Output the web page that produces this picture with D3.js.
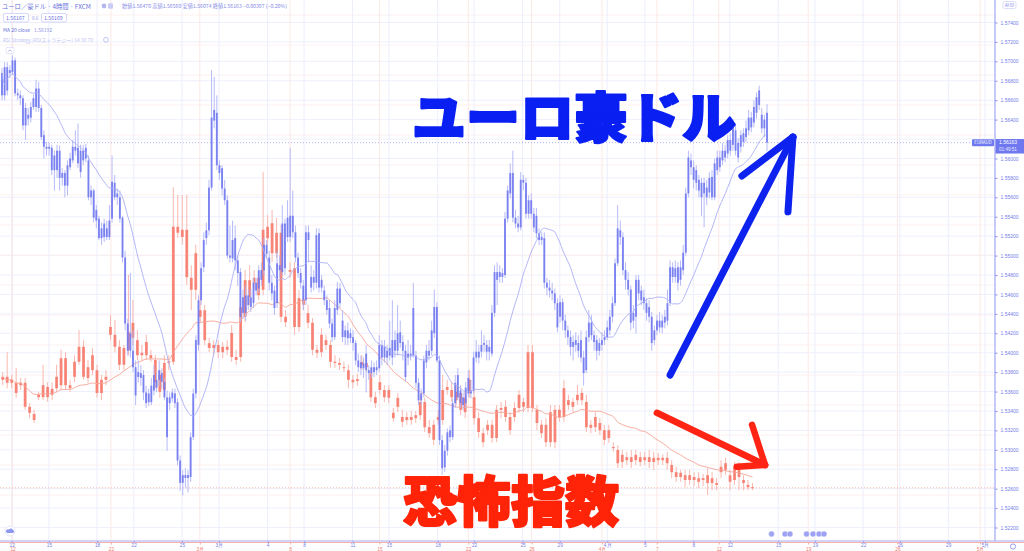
<!DOCTYPE html>
<html><head><meta charset="utf-8">
<script src="https://cdn.jsdelivr.net/npm/d3@7"></script>
<style>
html,body{margin:0;padding:0;background:#fff;}
svg{display:block;font-family:"Noto Sans CJK JP","Liberation Sans",sans-serif;}
</style></head><body>
<svg id="c" width="1024" height="551"></svg>
<script>
// ---------- DATA ----------
// EUR/AUD 4h candles [open, high, low, close]
const blueOHLC = [
[1.5665,1.5693,1.5660,1.5688],[1.5694,1.5699,1.5660,1.5665],[1.5670,1.5699,1.5665,1.5694],[1.5688,1.5696,1.5683,1.5691],[1.5689,1.5706,1.5686,1.5701],
[1.5701,1.5704,1.5664,1.5667],[1.5667,1.5672,1.5660,1.5665],[1.5665,1.5670,1.5655,1.5662],[1.5662,1.5665,1.5629,1.5634],[1.5634,1.5657,1.5619,1.5652],
[1.5645,1.5652,1.5634,1.5641],[1.5642,1.5658,1.5637,1.5653],[1.5653,1.5666,1.5650,1.5662],[1.5653,1.5681,1.5648,1.5672],[1.5672,1.5679,1.5648,1.5652],
[1.5652,1.5655,1.5619,1.5622],[1.5624,1.5629,1.5600,1.5612],[1.5612,1.5617,1.5603,1.5610],[1.5610,1.5616,1.5603,1.5612],[1.5611,1.5614,1.5583,1.5588],
[1.5588,1.5608,1.5567,1.5603],[1.5608,1.5614,1.5580,1.5588],[1.5608,1.5613,1.5567,1.5580],[1.5580,1.5590,1.5572,1.5585],[1.5585,1.5588,1.5560,1.5572],
[1.5572,1.5598,1.5562,1.5593],[1.5591,1.5606,1.5588,1.5600],[1.5598,1.5619,1.5595,1.5612],[1.5612,1.5629,1.5603,1.5608],[1.5611,1.5636,1.5590,1.5595],
[1.5586,1.5614,1.5580,1.5608],[1.5608,1.5614,1.5593,1.5598],[1.5600,1.5615,1.5596,1.5611],[1.5598,1.5603,1.5557,1.5560],[1.5560,1.5572,1.5552,1.5567],
[1.5567,1.5569,1.5534,1.5539],[1.5547,1.5552,1.5528,1.5536],[1.5538,1.5541,1.5516,1.5518],[1.5518,1.5534,1.5511,1.5528],[1.5533,1.5538,1.5514,1.5519],
[1.5519,1.5536,1.5516,1.5528],[1.5519,1.5552,1.5516,1.5536],[1.5538,1.5603,1.5534,1.5576],[1.5575,1.5583,1.5557,1.5560],[1.5560,1.5569,1.5552,1.5564],
[1.5560,1.5567,1.5534,1.5538],[1.5539,1.5541,1.5493,1.5498],[1.5498,1.5505,1.5423,1.5430],[1.5430,1.5435,1.5397,1.5402],[1.5402,1.5482,1.5395,1.5420],
[1.5402,1.5423,1.5380,1.5385],[1.5385,1.5392,1.5346,1.5356],[1.5375,1.5392,1.5369,1.5380],[1.5379,1.5387,1.5366,1.5374],[1.5377,1.5382,1.5351,1.5359],
[1.5359,1.5366,1.5343,1.5348],[1.5349,1.5363,1.5345,1.5358],[1.5349,1.5374,1.5346,1.5366],[1.5361,1.5387,1.5356,1.5377],[1.5372,1.5380,1.5359,1.5364],
[1.5372,1.5392,1.5366,1.5382],[1.5379,1.5384,1.5363,1.5370],[1.5370,1.5374,1.5351,1.5354],[1.5354,1.5361,1.5299,1.5313],[1.5348,1.5359,1.5341,1.5354],
[1.5353,1.5363,1.5349,1.5359],[1.5358,1.5363,1.5343,1.5348],[1.5349,1.5353,1.5284,1.5289],[1.5289,1.5294,1.5258,1.5266],[1.5266,1.5279,1.5253,1.5274],
[1.5274,1.5281,1.5261,1.5271],[1.5271,1.5279,1.5256,1.5274],[1.5272,1.5318,1.5267,1.5313],
[1.5313,1.5363,1.5310,1.5358],[1.5358,1.5418,1.5353,1.5413],[1.5408,1.5459,1.5402,1.5454],[1.5454,1.5493,1.5449,1.5487],[1.5488,1.5524,1.5483,1.5516],
[1.5518,1.5534,1.5511,1.5526],[1.5526,1.5578,1.5521,1.5570],[1.5570,1.5691,1.5567,1.5642],[1.5639,1.5684,1.5631,1.5650],[1.5647,1.5665,1.5588,1.5593],
[1.5593,1.5598,1.5578,1.5585],[1.5590,1.5593,1.5562,1.5569],[1.5569,1.5578,1.5552,1.5557],[1.5557,1.5562,1.5497,1.5500],[1.5500,1.5531,1.5493,1.5498],
[1.5497,1.5536,1.5493,1.5516],[1.5518,1.5531,1.5485,1.5495],[1.5495,1.5500,1.5469,1.5482],[1.5483,1.5487,1.5431,1.5437],[1.5441,1.5465,1.5435,1.5457],
[1.5459,1.5469,1.5433,1.5441],[1.5449,1.5465,1.5444,1.5459],[1.5457,1.5465,1.5442,1.5447],[1.5451,1.5477,1.5446,1.5472],[1.5472,1.5477,1.5459,1.5464],
[1.5466,1.5490,1.5462,1.5485],[1.5485,1.5493,1.5469,1.5475],[1.5485,1.5518,1.5480,1.5511],[1.5511,1.5516,1.5497,1.5502],[1.5498,1.5505,1.5464,1.5472],
[1.5472,1.5480,1.5454,1.5461],[1.5464,1.5469,1.5439,1.5446],[1.5451,1.5505,1.5446,1.5492],[1.5490,1.5500,1.5477,1.5485],[1.5483,1.5552,1.5480,1.5533],
[1.5533,1.5538,1.5480,1.5487],[1.5519,1.5557,1.5514,1.5539],[1.5541,1.5611,1.5514,1.5519],[1.5524,1.5567,1.5518,1.5541],[1.5524,1.5531,1.5493,1.5498],
[1.5498,1.5503,1.5477,1.5482],[1.5482,1.5487,1.5466,1.5472],[1.5469,1.5475,1.5444,1.5454],[1.5454,1.5531,1.5449,1.5524],[1.5524,1.5531,1.5493,1.5516],
[1.5478,1.5490,1.5462,1.5467],[1.5472,1.5485,1.5464,1.5478],[1.5472,1.5528,1.5466,1.5521],[1.5523,1.5528,1.5462,1.5467],[1.5467,1.5480,1.5462,1.5475],
[1.5464,1.5469,1.5449,1.5454],[1.5454,1.5459,1.5439,1.5444],[1.5446,1.5454,1.5425,1.5430],[1.5430,1.5435,1.5411,1.5416],[1.5416,1.5454,1.5413,1.5446],
[1.5444,1.5473,1.5439,1.5466],[1.5466,1.5472,1.5446,1.5451],[1.5433,1.5444,1.5411,1.5416],[1.5416,1.5428,1.5408,1.5423],[1.5423,1.5431,1.5408,1.5415],
[1.5415,1.5425,1.5410,1.5420],[1.5416,1.5423,1.5402,1.5410],[1.5410,1.5413,1.5387,1.5392],[1.5392,1.5399,1.5380,1.5385],[1.5384,1.5397,1.5377,1.5390],
[1.5389,1.5395,1.5374,1.5384],[1.5382,1.5408,1.5359,1.5399],[1.5382,1.5387,1.5372,1.5379],[1.5379,1.5392,1.5374,1.5385],[1.5385,1.5390,1.5375,1.5380],
[1.5382,1.5392,1.5377,1.5385],[1.5384,1.5418,1.5380,1.5408],[1.5408,1.5413,1.5387,1.5395],
[1.5395,1.5413,1.5390,1.5406],[1.5402,1.5408,1.5387,1.5395],[1.5397,1.5433,1.5392,1.5405],[1.5395,1.5454,1.5387,1.5413],[1.5413,1.5423,1.5395,1.5402],
[1.5402,1.5449,1.5397,1.5420],[1.5421,1.5433,1.5405,1.5410],[1.5411,1.5418,1.5392,1.5402],[1.5402,1.5408,1.5370,1.5375],[1.5395,1.5413,1.5387,1.5399],
[1.5399,1.5408,1.5392,1.5397],[1.5446,1.5472,1.5395,1.5397],[1.5397,1.5402,1.5363,1.5369],[1.5369,1.5374,1.5346,1.5351],[1.5351,1.5363,1.5346,1.5358],
[1.5358,1.5397,1.5354,1.5392],[1.5390,1.5408,1.5384,1.5402],[1.5402,1.5413,1.5392,1.5397],[1.5402,1.5433,1.5397,1.5423],[1.5420,1.5465,1.5415,1.5447],
[1.5447,1.5452,1.5390,1.5392],[1.5392,1.5397,1.5305,1.5310],[1.5310,1.5315,1.5274,1.5281],[1.5282,1.5305,1.5277,1.5299],[1.5299,1.5322,1.5294,1.5318],
[1.5320,1.5325,1.5308,1.5313],[1.5313,1.5353,1.5310,1.5348],[1.5348,1.5377,1.5343,1.5369],[1.5377,1.5384,1.5351,1.5354],[1.5361,1.5366,1.5343,1.5348],
[1.5346,1.5359,1.5341,1.5354],[1.5348,1.5370,1.5343,1.5364],[1.5358,1.5382,1.5354,1.5374],[1.5361,1.5372,1.5353,1.5358],[1.5361,1.5401,1.5358,1.5395],
[1.5395,1.5413,1.5390,1.5401],[1.5401,1.5408,1.5389,1.5395],[1.5401,1.5423,1.5395,1.5408],[1.5408,1.5418,1.5401,1.5410],[1.5408,1.5413,1.5392,1.5401],
[1.5401,1.5413,1.5392,1.5406],[1.5399,1.5449,1.5396,1.5441],[1.5441,1.5490,1.5437,1.5483],[1.5483,1.5493,1.5449,1.5475],[1.5478,1.5490,1.5472,1.5483],
[1.5482,1.5487,1.5472,1.5478],[1.5480,1.5545,1.5477,1.5538],[1.5538,1.5572,1.5534,1.5567],[1.5564,1.5595,1.5559,1.5585],[1.5585,1.5608,1.5534,1.5539],
[1.5539,1.5547,1.5528,1.5533],[1.5533,1.5541,1.5524,1.5529],[1.5529,1.5586,1.5526,1.5578],[1.5578,1.5583,1.5567,1.5575],[1.5575,1.5580,1.5538,1.5543],
[1.5543,1.5562,1.5538,1.5557],[1.5557,1.5564,1.5538,1.5543],[1.5543,1.5549,1.5524,1.5529],[1.5541,1.5549,1.5518,1.5523],[1.5523,1.5528,1.5511,1.5516],
[1.5516,1.5524,1.5511,1.5519],[1.5518,1.5524,1.5466,1.5472],[1.5472,1.5477,1.5459,1.5467],[1.5467,1.5475,1.5457,1.5464],[1.5464,1.5472,1.5454,1.5461],
[1.5461,1.5466,1.5444,1.5451],[1.5451,1.5456,1.5421,1.5426],[1.5437,1.5459,1.5431,1.5452],[1.5452,1.5456,1.5423,1.5433],[1.5433,1.5439,1.5415,1.5423],
[1.5423,1.5428,1.5408,1.5416],[1.5416,1.5423,1.5397,1.5406],[1.5406,1.5418,1.5392,1.5411],
[1.5413,1.5421,1.5401,1.5408],[1.5410,1.5418,1.5395,1.5402],[1.5395,1.5423,1.5390,1.5413],[1.5395,1.5402,1.5366,1.5379],[1.5382,1.5423,1.5379,1.5416],
[1.5416,1.5444,1.5411,1.5431],[1.5431,1.5439,1.5413,1.5418],[1.5418,1.5423,1.5402,1.5411],[1.5413,1.5418,1.5392,1.5402],[1.5402,1.5415,1.5397,1.5410],
[1.5408,1.5421,1.5402,1.5413],[1.5413,1.5423,1.5408,1.5416],[1.5416,1.5433,1.5413,1.5426],[1.5423,1.5444,1.5418,1.5437],[1.5437,1.5458,1.5431,1.5451],
[1.5451,1.5497,1.5448,1.5492],[1.5492,1.5552,1.5489,1.5528],[1.5526,1.5536,1.5511,1.5519],[1.5519,1.5524,1.5480,1.5485],[1.5485,1.5493,1.5465,1.5475],
[1.5475,1.5483,1.5459,1.5465],[1.5465,1.5469,1.5423,1.5431],[1.5433,1.5449,1.5425,1.5441],[1.5437,1.5480,1.5420,1.5475],[1.5475,1.5480,1.5454,1.5461],
[1.5454,1.5469,1.5449,1.5464],[1.5457,1.5465,1.5444,1.5451],[1.5451,1.5456,1.5433,1.5441],[1.5447,1.5454,1.5431,1.5437],[1.5437,1.5442,1.5402,1.5410],
[1.5413,1.5428,1.5408,1.5423],[1.5423,1.5439,1.5418,1.5433],[1.5433,1.5442,1.5421,1.5426],[1.5426,1.5439,1.5420,1.5433],[1.5431,1.5444,1.5425,1.5437],
[1.5433,1.5465,1.5428,1.5451],[1.5451,1.5495,1.5448,1.5488],[1.5488,1.5493,1.5472,1.5478],[1.5478,1.5495,1.5472,1.5487],[1.5488,1.5493,1.5464,1.5472],
[1.5475,1.5495,1.5469,1.5488],[1.5485,1.5511,1.5480,1.5503],[1.5503,1.5570,1.5500,1.5564],[1.5564,1.5608,1.5560,1.5601],[1.5598,1.5605,1.5583,1.5591],
[1.5591,1.5598,1.5569,1.5578],[1.5575,1.5593,1.5567,1.5588],[1.5578,1.5583,1.5560,1.5567],[1.5575,1.5580,1.5541,1.5560],[1.5564,1.5580,1.5529,1.5575],
[1.5570,1.5578,1.5552,1.5560],[1.5565,1.5586,1.5559,1.5580],[1.5581,1.5588,1.5557,1.5560],[1.5560,1.5600,1.5557,1.5595],[1.5588,1.5608,1.5583,1.5601],
[1.5601,1.5608,1.5586,1.5591],[1.5598,1.5616,1.5593,1.5608],[1.5608,1.5614,1.5596,1.5601],[1.5605,1.5624,1.5600,1.5619],[1.5619,1.5626,1.5603,1.5608],
[1.5614,1.5641,1.5608,1.5632],[1.5629,1.5634,1.5603,1.5608],[1.5616,1.5621,1.5596,1.5601],[1.5612,1.5629,1.5606,1.5624],[1.5617,1.5631,1.5612,1.5626],
[1.5622,1.5639,1.5617,1.5631],[1.5629,1.5650,1.5624,1.5642],[1.5642,1.5648,1.5627,1.5632],[1.5637,1.5660,1.5632,1.5653],[1.5647,1.5668,1.5641,1.5663],
[1.5655,1.5675,1.5650,1.5670],[1.5645,1.5652,1.5626,1.5631],[1.5631,1.5645,1.5622,1.5640],[1.56470,1.56560,1.56074,1.56163]
];
// Fear index (VIX) candles [open, high, low, close]
const redOHLC = [
[13.92,14.05,13.83,13.97],[13.97,14.38,13.78,13.87],[13.87,14.00,13.78,13.92],[13.87,14.12,13.62,13.70],[13.83,13.95,13.75,13.87],
[13.87,13.95,13.42,13.47],[13.47,13.53,13.28,13.37],[13.35,13.42,13.20,13.25],[13.63,13.72,13.58,13.67],[13.63,14.17,13.58,13.83],
[13.80,13.88,13.55,13.63],[13.67,13.88,13.58,13.77],[13.78,14.17,13.72,13.97],[13.83,14.42,13.75,14.28],[14.28,14.38,13.75,13.83],
[13.83,13.92,13.72,13.78],[13.97,14.33,13.88,14.22],[14.22,14.75,14.17,14.47],[14.47,14.58,13.92,13.97],[13.95,14.25,13.87,14.13],
[14.08,14.45,14.00,14.33],[14.08,14.17,13.62,13.70],[13.70,14.00,13.58,13.92],[13.92,14.08,13.83,13.97],[14.67,15.00,14.58,14.80],
[14.67,14.92,14.38,14.47],[14.47,14.58,14.08,14.17],[14.17,14.50,14.08,14.45],[14.42,15.67,14.33,14.72],[14.62,15.25,14.50,14.87],
[14.58,14.75,14.25,14.33],[14.33,14.50,14.25,14.37],[14.33,14.67,14.25,14.55],[14.33,14.42,14.22,14.28],[14.25,14.33,13.78,13.88],
[14.00,14.08,13.62,13.72],[13.75,14.33,13.67,14.20],[14.20,14.33,14.08,14.23],[14.22,17.13,14.17,16.47],[16.47,17.00,16.28,16.37],
[16.30,17.00,16.17,16.42],[16.42,17.00,15.50,15.63],[15.62,15.83,15.08,15.42],[15.42,16.17,15.25,16.03],[15.08,15.42,14.88,14.97],
[15.08,15.17,14.50,14.58],[14.53,14.62,14.38,14.45],[14.45,14.58,14.33,14.50],[14.50,14.58,14.28,14.38],[14.38,14.55,14.28,14.47],
[14.47,14.58,14.33,14.42],[14.30,14.83,14.22,14.70],[14.30,14.42,14.17,14.25],[14.30,15.25,14.22,15.13],[14.97,15.75,14.88,15.58],
[15.58,15.83,15.17,15.30],[15.53,15.75,15.42,15.62],[15.62,15.72,15.25,15.33],[15.42,17.38,15.33,16.42],[16.47,16.67,16.17,16.28],
[16.53,16.75,15.88,16.03],[16.03,16.62,15.95,16.37],[16.37,16.50,14.88,14.97],[14.97,15.08,14.80,14.88],[15.72,15.88,15.62,15.75],
[15.78,15.88,14.67,14.80],[14.80,15.42,14.72,15.28],[15.25,15.33,15.08,15.17],[15.03,15.17,14.78,14.87],[14.87,14.95,14.33,14.42],
[14.42,14.50,14.28,14.37],[14.38,14.78,14.30,14.67],[14.58,14.67,14.42,14.50],[14.50,14.58,14.12,14.22],[14.22,14.33,14.12,14.20],
[14.20,14.28,14.08,14.17],[14.13,14.22,14.05,14.12],[14.08,14.17,13.78,13.92],[13.92,14.00,13.78,13.88],[13.90,14.02,13.82,13.93],
[14.17,14.33,14.08,14.22],[14.20,14.28,14.05,14.13],[14.03,14.12,13.55,13.63],[13.63,13.72,13.45,13.53],[13.75,14.00,13.67,13.88],
[13.75,13.83,13.55,13.63],[13.75,13.83,13.53,13.62],[13.37,13.45,13.22,13.28],[13.47,13.70,13.38,13.62],[13.30,13.42,13.13,13.22],
[13.25,13.38,13.17,13.30],[13.30,13.40,13.17,13.25],[13.28,13.40,13.20,13.33],[13.33,13.67,13.25,13.55],[13.55,13.62,13.05,13.13],
[13.13,13.25,12.95,13.03],[12.92,13.25,12.83,13.17],[13.25,13.42,13.17,13.30],[13.25,14.00,13.17,13.75],[13.75,13.92,13.67,13.80],
[13.75,13.88,13.55,13.63],[13.58,13.83,13.50,13.72],[13.70,13.83,13.33,13.42],[13.38,13.75,13.28,13.62],[13.70,14.08,13.62,13.92],
[13.63,13.75,13.17,13.28],[13.28,13.38,12.95,13.05],[13.03,13.12,12.80,12.88],[13.08,13.25,13.00,13.17],[13.17,13.25,12.87,12.95],
[12.95,13.50,12.88,13.42],[13.42,13.55,13.28,13.45],[13.47,13.58,13.22,13.30],[13.30,13.38,13.00,13.08],[13.30,13.55,13.22,13.45],
[13.45,13.75,13.37,13.67],[13.55,13.62,13.38,13.47],[13.45,14.50,13.38,14.38],[14.38,14.50,13.38,13.45],[13.42,13.50,13.08,13.20],
[13.17,13.25,12.95,13.03],[13.17,13.28,12.80,12.88],[12.88,13.50,12.80,13.38],[13.42,13.50,12.78,12.88],[13.30,13.50,13.22,13.42],
[13.30,13.92,13.22,13.78],[13.58,13.67,13.42,13.50],[13.47,13.62,13.38,13.55],[13.58,13.83,13.50,13.67],[13.70,13.78,13.50,13.58],
[13.55,13.67,13.05,13.13],[13.17,13.25,13.03,13.12],[13.13,13.38,13.05,13.30],[13.20,13.28,13.00,13.08],[13.08,13.17,12.83,12.92],
[12.95,13.17,12.87,13.08],[12.80,12.88,12.72,12.78],[12.75,12.83,12.45,12.53],[12.55,12.75,12.45,12.67],[12.63,12.72,12.50,12.58],
[12.55,12.75,12.45,12.63],[12.58,12.75,12.50,12.67],[12.63,12.72,12.48,12.55],[12.58,12.72,12.50,12.63],[12.63,12.75,12.45,12.55],
[12.55,12.72,12.42,12.62],[12.62,12.70,12.50,12.58],[12.58,12.68,12.50,12.62],[12.62,12.72,12.42,12.53],[12.50,12.58,12.28,12.38],
[12.38,12.47,12.22,12.30],[12.30,12.42,12.22,12.37],[12.33,12.42,12.13,12.25],[12.25,12.42,12.17,12.33],[12.30,12.38,12.15,12.25],
[12.28,12.38,12.12,12.22],[12.25,12.35,12.15,12.28],[12.33,12.45,12.00,12.20],[12.20,12.38,12.08,12.28],[12.20,12.28,12.08,12.17],
[12.38,12.58,12.28,12.47],[12.42,12.62,12.33,12.53],[12.33,12.42,12.08,12.22],[12.25,12.55,12.17,12.47],[12.47,12.55,12.08,12.30],
[12.25,12.33,12.08,12.20],[12.17,12.25,12.08,12.13],[12.13,12.20,12.08,12.12]
];
const priceTicks = [1.574,1.572,1.570,1.568,1.566,1.564,1.562,1.560,1.558,1.556,1.554,1.552,1.550,1.548,1.546,1.544,1.542,1.540,1.538,1.536,1.534,1.532,1.530,1.528,1.526,1.524,1.522];
const blueTickLabels = ["12","15","18","22","25","3月","4","8","11","15","18","22","25","29","4月","5","8","12","15","19","22","26","29","5月"];
const blueTickIdx = [3.7,17.9,36.3,50.3,68.7,82.8,101.4,115.3,133.8,147.7,166.3,180.2,198.7,212.9,231,245.4,263.9,277.8,296.3,310.3,328.7,342.7,361.2,375.2];
const redTickLabels = ["12","22","3月","8","15","22","26","4月","7","12","19","26","5月"];
const redTickIdx = [2.2,24.1,43.9,64,83.9,103.7,117.8,133.5,145.7,159.5,179.4,199.3,217.7];
// annotation arrows in data space: [index, value]
const blueArrow = {tail:[255,1.5377], head:[301.9,1.5622], barbs:[[282.4,1.5582],[300,1.5545]]};
const redArrow = {tail:[145.7,13.37], head:[169.8,12.50], barbs:[[166.9,13.17],[163.5,12.47]]};
const maLen = 20;

// ---------- LAYOUT ----------
const svg = d3.select("#c");
const axisX = 995, axisY = 541;
const xB = d3.scaleLinear().domain([0, blueOHLC.length-1]).range([2, 767]);
const yB = d3.scaleLinear().domain([1.574, 1.522]).range([22.5, 527.5]);
const xR = d3.scaleLinear().domain([0, redOHLC.length-1]).range([2.7, 752.5]);
const yR = d3.scaleLinear().domain([12, 20.25]).range([495, 0]);

const BLUE = "#6f78ef", BLUE_W = "#aeb3f6", RED = "#f6796a", RED_W = "#f8b0a6";
const lastB = blueOHLC[blueOHLC.length-1][3], lastR = redOHLC[redOHLC.length-1][3];

svg.append("rect").attr("width",1024).attr("height",551).attr("fill","#fff");

// grid
const grid = svg.append("g");
grid.selectAll(".gh").data(priceTicks).join("line")
  .attr("x1",0).attr("x2",axisX).attr("y1",d=>yB(d)).attr("y2",d=>yB(d))
  .attr("stroke","#eef0fd").attr("stroke-width",1);
grid.selectAll(".ghr").data(yR.ticks(16)).join("line")
  .attr("x1",0).attr("x2",axisX).attr("y1",d=>yR(d)).attr("y2",d=>yR(d))
  .attr("stroke","#fdf0ef").attr("stroke-width",1);
grid.selectAll(".gv").data(blueTickIdx).join("line")
  .attr("x1",d=>xB(d)).attr("x2",d=>xB(d)).attr("y1",0).attr("y2",axisY)
  .attr("stroke","#eceefd").attr("stroke-width",1);
grid.selectAll(".gvr").data(redTickIdx).join("line")
  .attr("x1",d=>xR(d)).attr("x2",d=>xR(d)).attr("y1",0).attr("y2",axisY)
  .attr("stroke","#fce8e6").attr("stroke-width",1);

// last price lines
svg.append("line").attr("x1",0).attr("x2",axisX).attr("y1",yB(lastB)).attr("y2",yB(lastB))
  .attr("stroke","#9aa0f2").attr("stroke-width",0.8).attr("stroke-dasharray","1,2");
svg.append("line").attr("x1",0).attr("x2",axisX).attr("y1",yR(lastR)).attr("y2",yR(lastR))
  .attr("stroke","#f5a397").attr("stroke-width",0.8).attr("stroke-dasharray","1,2");

// moving averages
function sma(vals, n){ return vals.map((v,i)=>d3.mean(vals.slice(Math.max(0,i-n+1), i+1))); }
const redMA = sma(redOHLC.map(d=>d[3]), maLen);
const blueMA = sma(blueOHLC.map(d=>d[3]), maLen);

function drawCandles(data, x, y, bw, body, wick, cls){
  const g = svg.append("g").attr("class",cls);
  g.selectAll("line").data(data).join("line")
    .attr("x1",(d,i)=>x(i)).attr("x2",(d,i)=>x(i))
    .attr("y1",d=>y(d[1])).attr("y2",d=>y(d[2]))
    .attr("stroke",wick).attr("stroke-width",0.9);
  g.selectAll("rect").data(data).join("rect")
    .attr("x",(d,i)=>x(i)-bw/2).attr("width",bw)
    .attr("y",d=>Math.min(y(d[0]),y(d[3])))
    .attr("height",d=>Math.max(1,Math.abs(y(d[0])-y(d[3]))))
    .attr("fill",body).attr("fill-opacity",0.88);
}
drawCandles(redOHLC, xR, yR, 2.8, RED, RED_W, "red");
svg.append("path").datum(redMA)
  .attr("d", d3.line().x((d,i)=>xR(i)).y(d=>yR(d)).curve(d3.curveMonotoneX))
  .attr("fill","none").attr("stroke","#f6a596").attr("stroke-width",0.9);
drawCandles(blueOHLC, xB, yB, 1.9, BLUE, BLUE_W, "blue");
svg.append("path").datum(blueMA)
  .attr("d", d3.line().x((d,i)=>xB(i)).y(d=>yB(d)).curve(d3.curveMonotoneX))
  .attr("fill","none").attr("stroke","#a9aef4").attr("stroke-width",0.9);

// right price axis (ticks hidden behind the last-price box are not labelled)
const visibleTicks = priceTicks.filter(t => Math.abs(yB(t) - yB(lastB)) > 6);
const ra = svg.append("g").attr("transform",`translate(${axisX},0)`)
  .call(d3.axisRight(yB).tickValues(visibleTicks).tickFormat(d3.format(".5f")).tickSize(2.5).tickPadding(3));
ra.select(".domain").remove();
ra.selectAll("line").attr("stroke","#8e95f0");
ra.selectAll("text").attr("fill","#767ee8").attr("font-size","5px").attr("font-family","Liberation Sans, Arial, sans-serif");
svg.append("line").attr("x1",axisX).attr("x2",axisX).attr("y1",0).attr("y2",axisY).attr("stroke","#8e95f0").attr("stroke-width",1);

// bottom time axes
svg.append("line").attr("x1",0).attr("x2",1024).attr("y1",axisY).attr("y2",axisY).attr("stroke","#9aa0f2").attr("stroke-width",0.9);
svg.append("line").attr("x1",0).attr("x2",1024).attr("y1",axisY+1.5).attr("y2",axisY+1.5).attr("stroke","#f6a89e").attr("stroke-width",0.9);
const ba = svg.append("g").attr("transform",`translate(0,${axisY})`)
  .call(d3.axisBottom(xB).tickValues(blueTickIdx).tickFormat((d,i)=>blueTickLabels[i]).tickSize(2).tickPadding(1));
ba.select(".domain").remove();
ba.selectAll("line").attr("stroke","#9aa0f2");
ba.selectAll("text").attr("fill","#7a82ea").attr("font-size","4.8px");
const rba = svg.append("g").attr("transform",`translate(0,${axisY+1.5})`)
  .call(d3.axisBottom(xR).tickValues(redTickIdx).tickFormat((d,i)=>redTickLabels[i]).tickSize(2).tickPadding(3.2));
rba.select(".domain").remove();
rba.selectAll("line").attr("stroke","#f6a89e");
rba.selectAll("text").attr("fill","#f27d6e").attr("font-size","4.8px");

// price labels on right axis
svg.append("rect").attr("x",972).attr("y",yB(lastB)-3.4).attr("width",22).attr("height",7).attr("rx",1).attr("fill",BLUE);
svg.append("text").attr("x",983).attr("y",yB(lastB)+1.7).attr("text-anchor","middle").attr("font-size","4.4px").attr("fill","#fff").text("EURAUD");
svg.append("rect").attr("x",995.5).attr("y",yB(lastB)-3.6).attr("width",28.5).attr("height",14.5).attr("fill",BLUE);
svg.append("text").attr("x",999).attr("y",yB(lastB)+1.8).attr("font-size","5px").attr("fill","#fff").attr("font-family","Liberation Sans, Arial").text(d3.format(".5f")(lastB));
svg.append("text").attr("x",999).attr("y",yB(lastB)+8.2).attr("font-size","4.6px").attr("fill","#e6e8ff").attr("font-family","Liberation Sans, Arial").text("01:49:51");
// AUD tag
svg.append("rect").attr("x",1003).attr("y",1.5).attr("width",13).attr("height",7).attr("rx",1.5).attr("fill","#fff").attr("stroke","#c5c9f6").attr("stroke-width",0.6);
svg.append("text").attr("x",1009.5).attr("y",7).attr("text-anchor","middle").attr("font-size","4.5px").attr("fill","#7a82ea").text("AUD");
// gear
svg.append("circle").attr("cx",1013).attr("cy",546.5).attr("r",2.6).attr("fill","none").attr("stroke","#7a82ea").attr("stroke-width",0.8);

// legend
const lg = svg.append("g");
lg.append("text").attr("x",2).attr("y",8.5).attr("font-size","6.3px").attr("fill","#6770dc").text("ユーロ／豪ドル · 4時間 · FXCM");
lg.append("circle").attr("cx",104).attr("cy",6).attr("r",2.4).attr("fill","#6770dc").attr("fill-opacity",0.5);
lg.append("rect").attr("x",108).attr("y",3.3).attr("width",5).attr("height",5.4).attr("rx",1).attr("fill","#c9ccf6");
lg.append("text").attr("x",122).attr("y",8).attr("font-size","5.2px").attr("fill","#868ce6")
  .text("始値1.56470 高値1.56560 安値1.56074 終値1.56163 −0.00307 (−0.20%)");
lg.append("rect").attr("x",3.5).attr("y",13.5).attr("width",25).attr("height",8.5).attr("rx",1.5).attr("fill","#fff").attr("stroke","#b8bdf5").attr("stroke-width",0.6);
lg.append("text").attr("x",6).attr("y",19.7).attr("font-size","5.2px").attr("fill","#6a72dc").text("1.56167");
lg.append("text").attr("x",32).attr("y",19.7).attr("font-size","4.6px").attr("fill","#9aa0ea").text("0.6");
lg.append("rect").attr("x",41.5).attr("y",13.5).attr("width",25).attr("height",8.5).attr("rx",1.5).attr("fill","#fff").attr("stroke","#b8bdf5").attr("stroke-width",0.6);
lg.append("text").attr("x",44).attr("y",19.7).attr("font-size","5.2px").attr("fill","#6a72dc").text("1.56169");
lg.append("text").attr("x",3).attr("y",32).attr("font-size","5px").attr("fill","#6a72dc").text("MA 20 close");
lg.append("text").attr("x",34).attr("y",32).attr("font-size","5px").attr("fill","#8d93e8").text("1.56192");
lg.append("text").attr("x",3).attr("y",41.5).attr("font-size","5px").attr("fill","#c3c6f3").text("RSI Strategy (RSIストラテジー) 14 30 70");
lg.append("circle").attr("cx",106).attr("cy",39.8).attr("r",2.4).attr("fill","none").attr("stroke","#a6abf0").attr("stroke-width",0.7);
lg.append("rect").attr("x",6).attr("y",47.5).attr("width",8).attr("height",6).attr("rx",1).attr("fill","#fff").attr("stroke","#c9ccf6").attr("stroke-width",0.5);
lg.append("path").attr("d","M8.3 51.6 L10 49.8 L11.7 51.6").attr("fill","none").attr("stroke","#7a82ea").attr("stroke-width",0.6);
// bottom-left cloud icon
svg.append("circle").attr("cx",10).attr("cy",531).attr("r",5).attr("fill","#fff").attr("stroke","#d6d9f8").attr("stroke-width",0.6);
svg.append("path").attr("d","M7 533 h6 a1.6 1.6 0 0 0 0-3 a2.2 2.2 0 0 0-4-0.5 a1.7 1.7 0 0 0-2 3.5z").attr("fill","#8f96ee");
// event markers near bottom
const evX = [771.5,785,790,806.5,813,819,824];
svg.selectAll(".ev").data(evX).join("circle").attr("cx",d=>d).attr("cy",534).attr("r",3)
  .attr("fill","#7c84ee").attr("fill-opacity",0.75).attr("stroke","#fff").attr("stroke-width",0.5);

// annotations
function arrow(a, x, y, color, w){
  const g = svg.append("g").attr("stroke",color).attr("stroke-width",w).attr("stroke-linecap","round").attr("fill","none");
  g.append("line").attr("x1",x(a.tail[0])).attr("y1",y(a.tail[1])).attr("x2",x(a.head[0])).attr("y2",y(a.head[1]));
  a.barbs.forEach(b=>g.append("line").attr("x1",x(b[0])).attr("y1",y(b[1])).attr("x2",x(a.head[0])).attr("y2",y(a.head[1])));
}
arrow(blueArrow, xB, yB, "#0d22ee", 7);
arrow(redArrow, xR, yR, "#ff2414", 6.5);

svg.append("text").attr("x",412).attr("y",137.5).attr("font-size","54px").attr("font-weight",900)
  .attr("fill","#0a1ff2").attr("stroke","#0a1ff2").attr("stroke-width",2.2).attr("stroke-linejoin","round")
  .text("ユーロ豪ドル");
svg.append("text").attr("x",403).attr("y",522).attr("font-size","54px").attr("font-weight",900)
  .attr("fill","#ff2308").attr("stroke","#ff2308").attr("stroke-width",2.2).attr("stroke-linejoin","round")
  .text("恐怖指数");
</script>
</body></html>
